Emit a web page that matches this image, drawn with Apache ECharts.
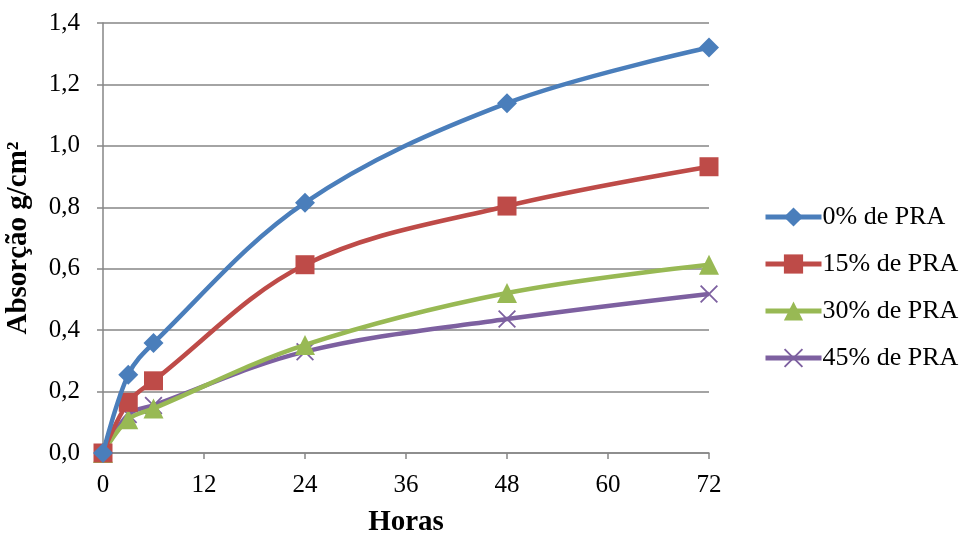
<!DOCTYPE html>
<html>
<head>
<meta charset="utf-8">
<script src="https://cdn.jsdelivr.net/npm/echarts@6/dist/echarts.min.js"></script>
<style>
  html, body { margin: 0; padding: 0; background: #fff; }
  #chart { width: 965px; height: 536px; }
</style>
</head>
<body>
<div id="chart"></div>
<script>
// Absorption over time for mixes with different PRA content
const hours = [0, 3, 6, 24, 48, 72];
const seriesNames = ['0% de PRA', '15% de PRA', '30% de PRA', '45% de PRA'];
const pra0  = [0, 0.255, 0.358, 0.815, 1.139, 1.320];
const pra15 = [0, 0.165, 0.235, 0.613, 0.804, 0.932];
const pra30 = [0, 0.110, 0.145, 0.352, 0.521, 0.613];
const pra45 = [0, 0.125, 0.155, 0.330, 0.436, 0.518];
const xTicks = [0, 12, 24, 36, 48, 60, 72];
const yTicks = [0, 0.2, 0.4, 0.6, 0.8, 1.0, 1.2, 1.4];

const colors = ['#4A7EBB', '#BE4B48', '#98B954', '#7D60A0'];
const symbols = [
  'path://M10,0L20,10L10,20L0,10Z',
  'rect',
  'triangle',
  'path://M0,1.4L1.4,0L10,8.6L18.6,0L20,1.4L11.4,10L20,18.6L18.6,20L10,11.4L1.4,20L0,18.6L8.6,10Z'
];
const symbolSizes = [20, 19, 20, 18];
const values = [pra0, pra15, pra30, pra45];

const font = '"Liberation Serif", "Times New Roman", serif';

const chart = echarts.init(document.getElementById('chart'), null, { renderer: 'canvas' });

chart.setOption({
  animation: false,
  color: colors,
  textStyle: { fontFamily: font, color: '#000' },
  grid: {
    left: 103, right: 256, top: 23, bottom: 83,
    containLabel: false,
    outerBoundsMode: 'none'
  },
  legend: {
    orient: 'vertical',
    left: 763,
    top: 204,
    padding: 0,
    itemWidth: 56,
    itemHeight: 24,
    itemGap: 21,
    lineStyle: { width: 5 },
    textStyle: { fontFamily: font, fontSize: 26, color: '#000', padding: [0, 0, 0, -4], lineHeight: 24 },
    data: seriesNames
  },
  xAxis: {
    type: 'value',
    min: xTicks[0],
    max: xTicks[xTicks.length - 1],
    interval: 12,
    name: 'Horas',
    nameLocation: 'middle',
    nameGap: 55,
    nameTextStyle: { fontFamily: font, fontSize: 29, fontWeight: 'bold', color: '#000' },
    axisLine: { lineStyle: { color: '#868686', width: 1.5 } },
    axisTick: { show: true, length: 6, lineStyle: { color: '#868686', width: 1.5 } },
    axisLabel: { fontFamily: font, fontSize: 25, color: '#000', margin: 20 },
    splitLine: { show: false }
  },
  yAxis: {
    type: 'value',
    min: yTicks[0],
    max: yTicks[yTicks.length - 1],
    interval: 0.2,
    name: 'Absorção g/cm²',
    nameLocation: 'middle',
    nameGap: 70,
    nameRotate: 90,
    nameTextStyle: { fontFamily: font, fontSize: 29, fontWeight: 'bold', color: '#000' },
    axisLine: { show: true, lineStyle: { color: '#868686', width: 1.5 } },
    axisTick: { show: true, length: 6, lineStyle: { color: '#868686', width: 1.5 } },
    axisLabel: {
      fontFamily: font, fontSize: 25, color: '#000', margin: 23,
      formatter: v => v.toFixed(1).replace('.', ',')
    },
    splitLine: { show: true, lineStyle: { color: '#868686', width: 1.5 } }
  },
  series: seriesNames.map((name, i) => ({
    name: name,
    type: 'line',
    smooth: 0.35,
    data: hours.map((h, k) => [h, values[i][k]]),
    symbol: symbols[i],
    symbolSize: symbolSizes[i],
    showAllSymbol: true,
    lineStyle: { width: 4.5, color: colors[i] },
    itemStyle: { color: colors[i] },
    z: 10 - i
  }))
});
</script>
</body>
</html>
